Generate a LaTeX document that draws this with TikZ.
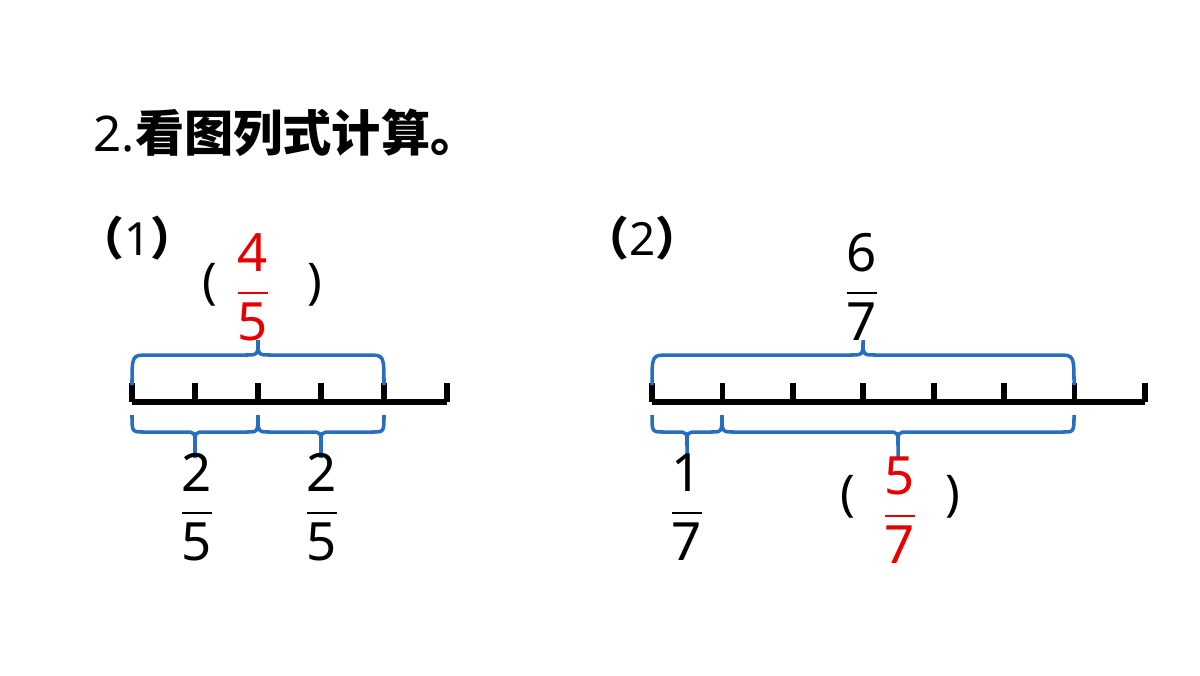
\documentclass[tikz,border=0pt]{standalone}
\usepackage{amsmath}
\usepackage{fontspec}
\setmainfont{Noto Sans}
\newfontfamily\cjk{Noto Sans CJK SC}
\definecolor{bb}{RGB}{40,110,190}
\definecolor{rr}{RGB}{230,0,0}
\newcommand\bup[5]{% x1 x2 xm ybot ytop
 \draw[brace] (#1,#4) .. controls (#1,#5) .. (#1+16,#5) -- (#3-13,#5) .. controls (#3,#5) .. (#3,#5-15) .. controls (#3,#5) .. (#3+13,#5) -- (#2-16,#5) .. controls (#2,#5) .. (#2,#4);}
\newcommand\bdn[5]{% x1 x2 xm ytop ybot
 \draw[brace] (#1,#4) .. controls (#1,#5) .. (#1+12,#5) -- (#3-10,#5) .. controls (#3,#5) .. (#3,#5+14) -- (#3,#5+26);
 \draw[brace] (#3,#5+14) .. controls (#3,#5) .. (#3+10,#5) -- (#2-12,#5) .. controls (#2,#5) .. (#2,#4);}
\newcommand\fr[2]{$\dfrac{\text{#1}}{\text{#2}}$}
\begin{document}
\begin{tikzpicture}[x=0.01cm,y=-0.01cm,
  brace/.style={bb,line width=1pt},
  axis/.style={line width=1.6pt,black},
  lab/.style={font=\fontsize{15}{18}\selectfont,inner sep=0pt},
  par/.style={font=\fontsize{14}{16}\selectfont\bfseries,inner sep=0pt}]
\useasboundingbox (0,0) rectangle (1200,675);
\node[anchor=west,inner sep=0pt,font=\fontsize{14}{16}\selectfont\bfseries] (title) at (93,133) {2.{\cjk 看图列式计算。}};
\node[anchor=west,inner sep=0pt,font=\fontsize{13}{16}\selectfont\bfseries] (p1) at (78,238) {{\cjk （}1{\cjk ）}};
\node[anchor=west,inner sep=0pt,font=\fontsize{13}{16}\selectfont\bfseries] (p2) at (583,238) {{\cjk （}2{\cjk ）}};
% line 1
\draw[axis] (132,402) coordinate (a0) -- (447,402) coordinate (a1);
\foreach \x in {132,195,258,321,384,447} \draw[axis] (\x,402) -- (\x,383);
\bup{132}{384}{258}{385}{355}
\bdn{132}{258}{195}{415}{432}
\bdn{258}{384}{321}{415}{432}
\node[par] (l1) at (210,285) {(};
\node[par] (r1) at (315,285) {)};
\node[lab,text=rr] (f1) at (253,287) {\fr{4}{5}};
\node[lab] (f2) at (197,507) {\fr{2}{5}};
\node[lab] (f3) at (322,507) {\fr{2}{5}};
% line 2
\draw[axis] (652,402) coordinate (b0) -- (1145,402) coordinate (b1);
\foreach \i in {0,...,7} \draw[axis] (652+70.43*\i,402) -- (652+70.43*\i,383);
\bup{652}{1074}{863}{385}{355}
\bdn{652}{722}{687}{415}{432}
\bdn{722}{1074}{898}{415}{432}
\node[lab] (g1) at (862,287) {\fr{6}{7}};
\node[lab] (g2) at (687,507) {\fr{1}{7}};
\node[par] (l2) at (848,497) {(};
\node[par] (r2) at (953,497) {)};
\node[lab,text=rr] (g3) at (900,510) {\fr{5}{7}};
\end{tikzpicture}
\end{document}
